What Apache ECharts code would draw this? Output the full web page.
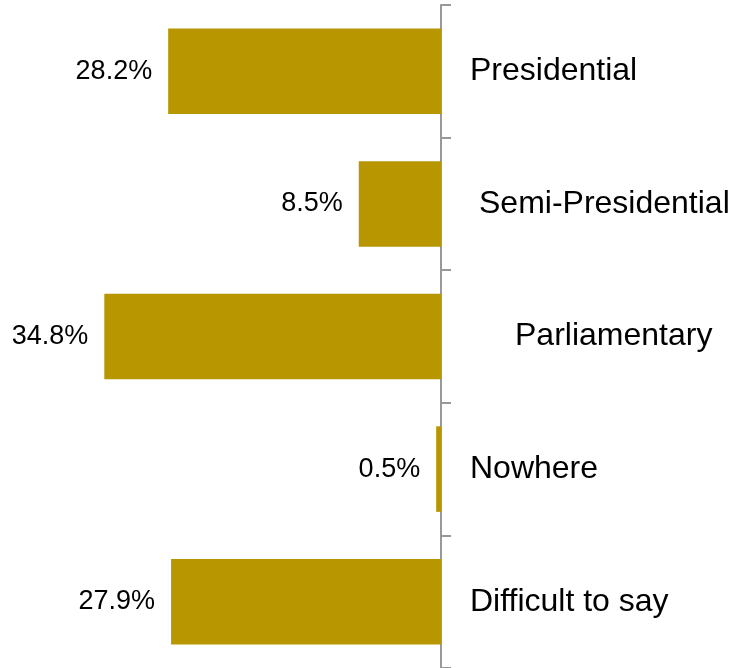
<!DOCTYPE html>
<html>
<head>
<meta charset="utf-8">
<script src="https://cdn.jsdelivr.net/npm/echarts@6/dist/echarts.min.js"></script>
<style>html,body{margin:0;padding:0;background:#fff}#c{width:733px;height:668px}</style>
</head>
<body>
<div id="c"></div>
<script>
var categories = ['Presidential', 'Semi-Presidential', 'Parliamentary', 'Nowhere', 'Difficult to say'];
var values = [28.2, 8.5, 34.8, 0.5, 27.9];

// extra left offsets of category labels (styling only)
var labelOffsets = [0, 9, 45, 0, 0];
var rich = {};
labelOffsets.forEach(function (o, i) {
  rich['p' + i] = { padding: [0, 0, 0, o], fontSize: 32, color: '#000', fontFamily: 'Liberation Sans, Arial, sans-serif' };
});

var chart = echarts.init(document.getElementById('c'));
chart.setOption({
  animation: false,
  grid: { left: 54, right: 292, top: 5, bottom: 0, containLabel: false },
  xAxis: {
    type: 'value', inverse: true, min: 0, max: 40, show: false
  },
  yAxis: {
    type: 'category', data: categories, inverse: true, position: 'right',
    axisLine: { show: true, lineStyle: { color: '#999', width: 2 } },
    axisTick: { show: true, length: 10, lineStyle: { color: '#999', width: 2 } },
    splitLine: { show: false },
    axisLabel: {
      margin: 29, align: 'left',
      formatter: function (v, i) { return '{p' + i + '|' + v + '}'; },
      rich: rich
    }
  },
  series: [{
    type: 'bar', data: values, barWidth: '64.5%',
    itemStyle: { color: '#B89600' },
    label: {
      show: true, position: 'left', distance: 16,
      formatter: function (p) { return p.value + '%'; },
      fontSize: 27, color: '#000', fontFamily: 'Liberation Sans, Arial, sans-serif'
    }
  }]
});
</script>
</body>
</html>
